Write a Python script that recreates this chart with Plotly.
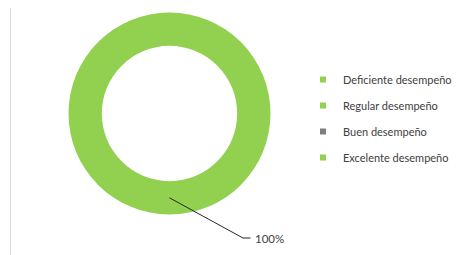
import plotly.graph_objects as go

# Data
categories = ["Deficiente desempeño", "Regular desempeño", "Buen desempeño", "Excelente desempeño"]
values = [0, 100, 0, 0]
colors = ["#92D050", "#92D050", "#7F7F7F", "#92D050"]
data_label = "100%"

# The page body has an 8px default margin; lay the figure out in page pixels minus that.
OFF = 8
W, H = 462 - OFF, 255 - OFF
cx, cy, r_out, hole = 169.5 - OFF, 113.5 - OFF, 101, 0.67

fig = go.Figure()
fig.add_trace(go.Pie(
    labels=categories, values=values,
    marker=dict(colors=colors, line=dict(width=0)),
    hole=hole, sort=False, direction="clockwise", rotation=0,
    textinfo="none", hoverinfo="label+percent", showlegend=False,
    domain=dict(x=[(cx - r_out) / W, (cx + r_out) / W],
                y=[1 - (cy + r_out) / H, 1 - (cy - r_out) / H]),
))

# legend entries
for i, (c, col) in enumerate(zip(categories, colors)):
    fig.add_trace(go.Scatter(
        x=[None], y=[None], mode="markers", name=c,
        marker=dict(symbol="square", size=6, color=col),
        legendgroup=str(i), showlegend=True,
    ))

# leader line from mid-ring at bottom of the ring
r_mid = r_out * (1 + hole) / 2
px0, py0 = cx, cy + r_mid
px1, py1 = 243 - OFF, 238 - OFF
px2 = 250.5 - OFF
line_style = dict(color="#262626", width=1)
fig.add_shape(type="line", xref="paper", yref="paper",
              x0=px0 / W, y0=1 - py0 / H, x1=px1 / W, y1=1 - py1 / H, line=line_style)
fig.add_shape(type="line", xref="paper", yref="paper",
              x0=px1 / W, y0=1 - py1 / H, x1=px2 / W, y1=1 - py1 / H, line=line_style)
fig.add_annotation(text=data_label, xref="paper", yref="paper",
                   x=(px2 + 2) / W, y=1 - py1 / H, xanchor="left", yanchor="middle",
                   showarrow=False, font=dict(family="Lato, Carlito, sans-serif", size=11.5, color="#404040"))

# chart frame left border
fig.add_shape(type="line", xref="paper", yref="paper",
              x0=(10.5 - OFF) / W, y0=0, x1=(10.5 - OFF) / W, y1=1,
              line=dict(color="#D9D9D9", width=1))

fig.update_layout(
    width=W, height=H,
    margin=dict(l=0, r=0, t=0, b=0, autoexpand=False),
    paper_bgcolor="white", plot_bgcolor="white",
    xaxis=dict(visible=False), yaxis=dict(visible=False),
    showlegend=True,
    legend=dict(x=(303 - OFF) / W, y=1 - (65 - OFF) / H, xanchor="left", yanchor="top",
                traceorder="grouped", tracegroupgap=7,
                font=dict(family="Lato, Carlito, sans-serif", size=11, color="#404040"),
                itemwidth=30, bgcolor="rgba(0,0,0,0)", borderwidth=0),
)

fig.write_html("out.html")
